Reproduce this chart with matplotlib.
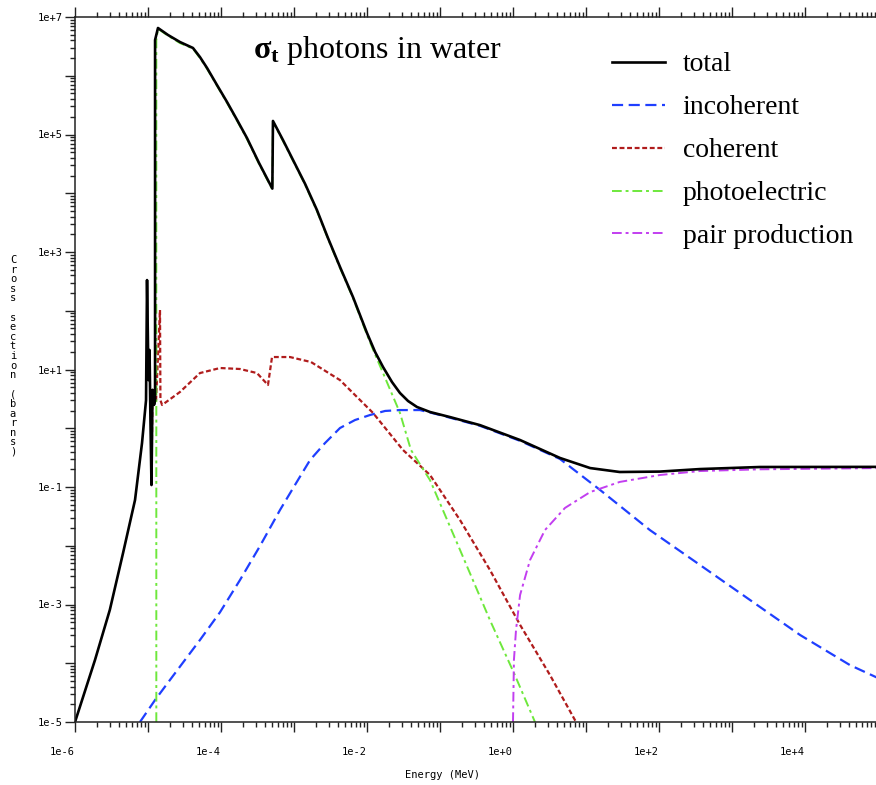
import numpy as np
import matplotlib
matplotlib.use("Agg")
import matplotlib.pyplot as plt
from matplotlib.ticker import LogLocator, FixedLocator, NullFormatter, FuncFormatter

# energies in MeV, cross sections in barns
total_E = [1.0e-6, 1.88e-6, 3.0e-6, 4.55e-6, 6.64e-6, 8.28e-6, 9.4e-6, 9.7e-6,
           1.016e-5, 1.05e-5, 1.08e-5, 1.116e-5, 1.153e-5, 1.21e-5, 1.25e-5,
           1.25e-5, 1.37e-5, 1.88e-5, 2.74e-5, 4.13e-5, 5.15e-5, 6.43e-5, 8.8e-5,
           1.21e-4, 1.66e-4, 2.27e-4, 3.32e-4, 5.05e-4, 5.15e-4, 7.06e-4, 9.7e-4,
           1.42e-3, 2.06e-3, 2.92e-3, 4.27e-3, 6.43e-3, 1.0e-2, 1.29e-2, 1.66e-2,
           2.2e-2, 2.83e-2, 3.65e-2, 4.84e-2, 7.3e-2, 0.137, 0.353, 1.25, 4.4,
           11.4, 29.0, 103.0, 365.0, 2420.0, 1.0e5]
total_s = [1.0e-5, 1.14e-4, 8.1e-4, 7.5e-3, 0.060, 0.56, 3.0, 333.0,
           6.6, 21.5, 1.38, 0.108, 4.5, 2.5, 3.0,
           4.06e6, 6.5e6, 4.94e6, 3.75e6, 2.97e6, 2.08e6, 1.36e6, 6.97e5,
           3.57e5, 1.77e5, 8.7e4, 3.27e4, 1.2e4, 1.7e5, 8.05e4, 3.68e4,
           1.44e4, 5.19e3, 1730.0, 556.0, 171.0, 41.8, 19.9, 11.0,
           6.12, 3.98, 2.91, 2.30, 1.89, 1.55, 1.13, 0.63, 0.312,
           0.21, 0.18, 0.183, 0.202, 0.219, 0.22]

incoh_E = [7.76e-6, 1.25e-5, 2.0e-5, 3.21e-5, 5.15e-5, 9.7e-5, 1.82e-4, 3.42e-4,
           6.43e-4, 1.03e-3, 1.66e-3, 2.66e-3, 4.27e-3, 6.85e-3, 1.1e-2, 1.77e-2,
           2.83e-2, 5.32e-2, 0.1, 0.353, 1.25, 4.4, 15.6, 75.0, 365.0, 1770.0,
           8550.0, 4.13e4, 1.0e5]
incoh_s = [1.0e-5, 2.37e-5, 5.2e-5, 1.14e-4, 2.49e-4, 7.4e-4, 2.61e-3, 9.9e-3,
           0.0406, 0.108, 0.288, 0.56, 1.01, 1.38, 1.68, 1.97,
           2.04, 2.04, 1.68, 1.1, 0.61, 0.30, 0.089, 0.0185, 4.7e-3, 1.19e-3,
           3.03e-4, 9.3e-5, 5.6e-5]

coh_E = [1.116e-5, 1.153e-5, 1.29e-5, 1.46e-5, 1.48e-5, 1.56e-5, 2.74e-5, 5.15e-5,
         9.7e-5, 1.82e-4, 3.11e-4, 4.4e-4, 5.0e-4, 8.8e-4, 1.71e-3, 4.27e-3,
         0.0121, 0.0311, 0.073, 0.188, 0.484, 1.25, 3.21, 7.3]
coh_s = [0.108, 4.5, 3.0, 103.0, 3.0, 2.49, 4.14, 8.7,
         10.6, 10.2, 8.7, 5.45, 16.3, 16.3, 13.4, 6.6,
         1.82, 0.427, 0.16, 0.0274, 3.86e-3, 4.5e-4, 6.3e-5, 1.0e-5]

photo_E = [1.3e-5, 1.3e-5, 1.37e-5, 1.88e-5, 2.74e-5, 4.13e-5, 5.15e-5, 6.43e-5,
           8.8e-5, 1.21e-4, 1.66e-4, 2.27e-4, 3.32e-4, 5.05e-4, 5.15e-4, 7.06e-4,
           9.7e-4, 1.42e-3, 2.06e-3, 2.92e-3, 4.27e-3, 6.43e-3, 1.0e-2, 1.29e-2,
           1.66e-2, 2.83e-2, 0.040, 0.073, 0.188, 0.484, 1.06, 2.0]
photo_s = [1.0e-5, 4.0e6, 6.3e6, 4.8e6, 3.6e6, 2.9e6, 2.0e6, 1.32e6,
           6.8e5, 3.46e5, 1.72e5, 8.4e4, 3.17e4, 1.16e4, 1.65e5, 7.8e4,
           3.57e4, 1.4e4, 5.0e3, 1680.0, 535.0, 165.0, 39.0, 18.0,
           8.7, 1.82, 0.427, 0.131, 8.5e-3, 5.4e-4, 6.3e-5, 1.0e-5]

pair_E = [1.0, 1.03, 1.10, 1.25, 1.71, 2.74, 5.15, 11.4, 29.0, 103.0, 365.0, 2420.0, 1.0e5]
pair_s = [1.0e-5, 1.14e-4, 3.7e-4, 1.45e-3, 5.7e-3, 0.0185, 0.044, 0.082, 0.122, 0.16,
          0.187, 0.2, 0.21]

x_labels = {-6: "1e-6", -4: "1e-4", -2: "1e-2", 0: "1e+0", 2: "1e+2", 4: "1e+4"}
y_labels = {-5: "1e-5", -3: "1e-3", -1: "1e-1", 1: "1e+1", 3: "1e+3", 5: "1e+5", 7: "1e+7"}

plt.rcParams['font.family'] = ['Liberation Serif', 'DejaVu Serif']
plt.rcParams['mathtext.fontset'] = 'custom'
plt.rcParams['mathtext.rm'] = 'Liberation Serif'
plt.rcParams['mathtext.bf'] = 'Liberation Serif:bold'
plt.rcParams['mathtext.it'] = 'Liberation Serif:italic'

fig = plt.figure(figsize=(8.76, 7.85), dpi=100)
ax = fig.add_axes([75 / 876, 1 - 722 / 785, 803 / 876, 705 / 785])

ax.plot(incoh_E, incoh_s, color='#1f3fff', lw=1.6, dashes=(5, 2.5), label='incoherent')
ax.plot(coh_E, coh_s, color='#b01c1c', lw=1.6, dashes=(2.2, 1.2), label='coherent')
ax.plot(photo_E, photo_s, color='#6ee83c', lw=1.4, dashes=(5, 2, 1.5, 2), label='photoelectric')
ax.plot(pair_E, pair_s, color='#c23ef0', lw=1.4, dashes=(5, 2, 1.5, 2), label='pair production')
ax.plot(total_E, total_s, color='black', lw=1.9, label='total')

ax.set_xscale('log')
ax.set_yscale('log')
ax.set_xlim(1e-6, 1e5)
ax.set_ylim(1e-5, 1e7)

ax.xaxis.set_major_locator(FixedLocator([10.0 ** k for k in range(-6, 6)]))
ax.yaxis.set_major_locator(FixedLocator([10.0 ** k for k in range(-5, 8)]))
ax.xaxis.set_minor_locator(LogLocator(base=10, subs=np.arange(2, 10), numticks=50))
ax.yaxis.set_minor_locator(LogLocator(base=10, subs=np.arange(2, 10), numticks=50))
ax.xaxis.set_minor_formatter(NullFormatter())
ax.yaxis.set_minor_formatter(NullFormatter())
ax.xaxis.set_major_formatter(FuncFormatter(lambda v, p: x_labels.get(int(round(np.log10(v))), "")))
ax.yaxis.set_major_formatter(FuncFormatter(lambda v, p: y_labels.get(int(round(np.log10(v))), "")))

ax.tick_params(which='both', direction='out', top=True, right=False, width=1.0, color='#222222')
ax.tick_params(which='major', length=7)
ax.tick_params(which='minor', length=3.5)
ax.tick_params(axis='x', which='major', pad=11)
ax.tick_params(axis='y', which='major', pad=2)
for lab in ax.get_xticklabels():
    lab.set_horizontalalignment('right')
for lab in ax.get_xticklabels() + ax.get_yticklabels():
    lab.set_family('DejaVu Sans Mono')
    lab.set_fontsize(7.5)

ax.spines['right'].set_visible(False)
for s in ['left', 'bottom', 'top']:
    ax.spines[s].set_linewidth(1.1)
    ax.spines[s].set_color('#222222')

fig.text(442 / 876, 1 - 775 / 785, "Energy (MeV)", ha='center', va='center',
         family='DejaVu Sans Mono', fontsize=7.5)
fig.text(13 / 876, 1 - 356 / 785, "\n".join("Cross section (barns)"), ha='center', va='center',
         family='DejaVu Sans Mono', fontsize=7.5, linespacing=0.95)

fig.text(253 / 876, 1 - 58 / 785, r'$\mathbf{\sigma_t}$ photons in water', fontsize=23,
         ha='left', va='baseline')

handles, labels = ax.get_legend_handles_labels()
order = [4, 0, 1, 2, 3]
ax.legend([handles[i] for i in order], [labels[i] for i in order],
          loc='upper left', bbox_to_anchor=(612 / 876, 1 - 52 / 785),
          bbox_transform=fig.transFigure, frameon=False, borderpad=0, borderaxespad=0,
          handlelength=1.9, handletextpad=0.65, labelspacing=0.63, fontsize=20)

fig.savefig('out.png', dpi=100)
